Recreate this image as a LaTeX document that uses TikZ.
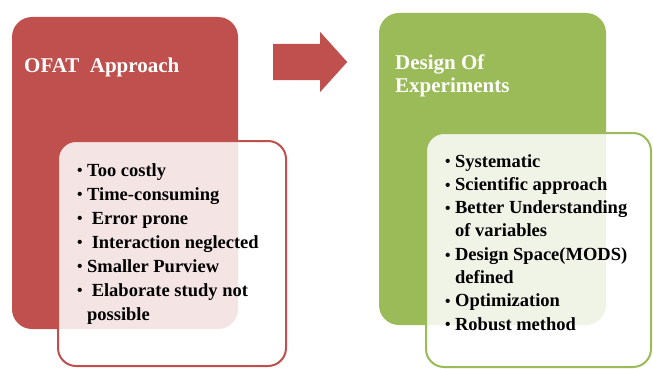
\documentclass[tikz,border=0pt]{standalone}
\usepackage{fontspec}
\setmainfont{Liberation Serif}
\usetikzlibrary{shapes.arrows}
\definecolor{ofatred}{HTML}{C0504D}
\definecolor{doegreen}{HTML}{9BBB59}
\newcommand{\dotitem}{\raisebox{0.2pt}{\fontsize{15.5}{15.5}\selectfont\textbullet}}

\begin{document}
\begin{tikzpicture}[
    x=1pt, y=-1pt,
    panel/.style={rectangle, rounded corners=20pt, draw=none, inner sep=0pt},
    listbox/.style={rectangle, rounded corners=18pt, line width=2pt, fill=white,
        fill opacity=0.85, % Let the panel behind show through
        inner sep=0pt},
    heading/.style={anchor=base west, inner sep=0pt, text=white,
        font=\bfseries\fontsize{21}{23}\selectfont},
    items/.style={anchor=base west, inner sep=0pt,
        font=\bfseries\fontsize{18.5}{24}\selectfont}
]
\useasboundingbox (0,0) rectangle (653,369);

% Panels
\node[panel, fill=ofatred, minimum width=226pt, minimum height=312pt] (ofat) at (125,173) {};
\node[panel, fill=doegreen, minimum width=227pt, minimum height=312pt] (doe) at (492.5,169) {};

% Arrow between the panels
\node[single arrow, fill=ofatred, anchor=tail, inner xsep=0pt, inner ysep=18pt,
    single arrow head extend=12pt, single arrow tip angle=96,
    minimum height=74pt] (shift) at (273,62) {};

% Lists
\node[listbox, draw=ofatred, minimum width=228pt, minimum height=225pt] (cons) at (172,253.5) {};
\node[listbox, draw=doegreen, minimum width=225pt, minimum height=234pt] (pros) at (538.5,250) {};

% Titles
\node[heading] (ofattitle) at (24,73) {OFAT\ \ Approach};
\node[heading] (doetitle) at (395,70) {\begin{tabular}[t]{@{}l@{}}Design Of\\Experiments\end{tabular}};

% Bullet points
\node[items] (conslist) at (77,176) {\begin{tabular}[t]{@{}l@{\hspace{4.5pt}}l@{}}
\dotitem & Too costly\\
\dotitem & Time-consuming\\
\dotitem & \ Error prone\\
\dotitem & \ Interaction neglected\\
\dotitem & Smaller Purview\\
\dotitem & \ Elaborate study not\\
 & possible
\end{tabular}};
\node[items, font=\bfseries\fontsize{18.5}{23.3}\selectfont] (proslist) at (445,167) {\begin{tabular}[t]{@{}l@{\hspace{4.5pt}}l@{}}
\dotitem & Systematic\\
\dotitem & Scientific approach\\
\dotitem & Better Understanding\\
 & of variables\\
\dotitem & Design Space(MODS)\\
 & defined\\
\dotitem & Optimization\\
\dotitem & Robust method
\end{tabular}};

\end{tikzpicture}
\end{document}
